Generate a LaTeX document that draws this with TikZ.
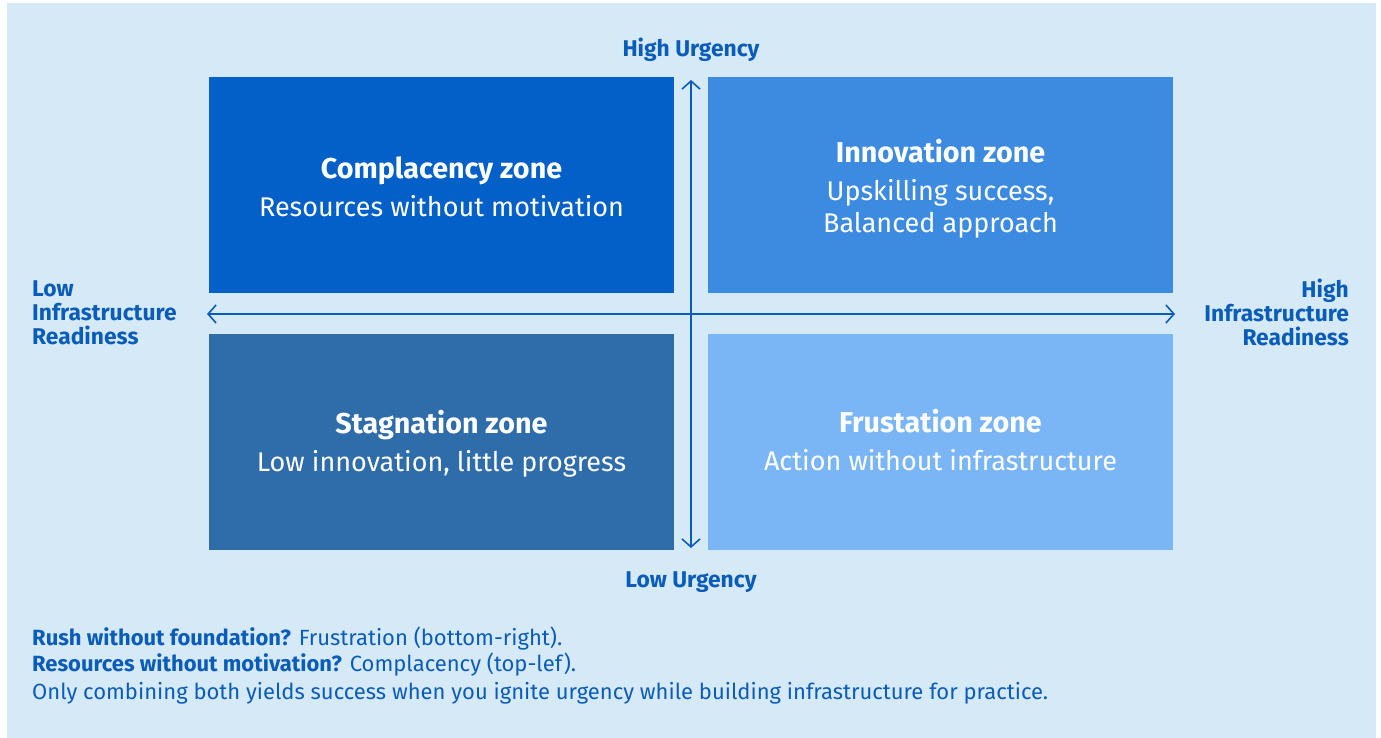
\documentclass[tikz,border=0pt]{standalone}
\usepackage{fontspec}
\setmainfont{Fira Sans}
\usetikzlibrary{arrows.meta}
\definecolor{bgblue}{RGB}{214,233,247}
\definecolor{inkblue}{RGB}{10,92,185}
\definecolor{zoneTL}{RGB}{3,96,200}
\definecolor{zoneTR}{RGB}{60,139,224}
\definecolor{zoneBL}{RGB}{47,108,170}
\definecolor{zoneBR}{RGB}{122,182,245}
\newcommand{\zonehead}[1]{{\fontsize{28.7}{32}\selectfont\bfseries #1}\\[6pt]}
\tikzset{
  zone/.style={draw=none, minimum width=465pt, minimum height=216pt, inner sep=0pt},
  zonetext/.style={text=white, align=center, font=\fontsize{27}{32}\selectfont},
  axislabel/.style={text=inkblue, font=\fontsize{22.8}{24}\selectfont\bfseries, inner sep=0pt},
  axisline/.style={draw=inkblue, line width=1.6pt, {Straight Barb[length=8pt,width=18pt,line width=1.6pt]}-{Straight Barb[length=8pt,width=18pt,line width=1.6pt]}},
  note/.style={text=inkblue, font=\fontsize{22}{26}\selectfont, inner sep=0pt, anchor=west}
}
\begin{document}
\begin{tikzpicture}[x=1pt, y=-1pt]
  \useasboundingbox (0,0) rectangle (1381,738);
  \fill[bgblue] (7,3) rectangle (1376,738);

  % four zones
  \node[zone, fill=zoneTL] (tl) at (441.5,185) {};
  \node[zone, fill=zoneTR] (tr) at (940.5,185) {};
  \node[zone, fill=zoneBL] (bl) at (441.5,442) {};
  \node[zone, fill=zoneBR] (br) at (940.5,442) {};

  \node[zonetext] (tlt) at ([yshift=-2pt]tl.center) {\zonehead{Complacency zone}Resources without motivation};
  \node[zonetext] (trt) at ([yshift=-3.5pt]tr.center) {\zonehead{Innovation zone}Upskilling success,\\Balanced approach};
  \node[zonetext] (blt) at ([yshift=-1.5pt]bl.center) {\zonehead{Stagnation zone}Low innovation, little progress};
  \node[zonetext] (brt) at ([yshift=1.5pt]br.center) {\zonehead{Frustation zone}Action without infrastructure};

  % axis end points
  \coordinate (up) at (691,80);
  \coordinate (down) at (691,548);
  \coordinate (left) at (207,314);
  \coordinate (right) at (1175,314);
  \draw[axisline] (down) -- (up);
  \draw[axisline] (left) -- (right);

  % axis labels
  \node[axislabel] (hu) at (691,50) {High Urgency};
  \node[axislabel] (lu) at (691,582) {Low Urgency};
  \node[axislabel, anchor=west, align=left] (lir) at (32,313) {Low\\Infrastructure\\Readiness};
  \node[axislabel, anchor=east, align=right] (hir) at (1349,312) {High\\Infrastructure\\Readiness};

  % notes
  \node[note] (n1) at (32,639) {\textbf{Rush without foundation?} Frustration (bottom-right).};
  \node[note] (n2) at (32,665) {\textbf{Resources without motivation?} Complacency (top-lef).};
  \node[note] (n3) at (32,693) {Only combining both yields success when you ignite urgency while building infrastructure for practice.};
\end{tikzpicture}
\end{document}
